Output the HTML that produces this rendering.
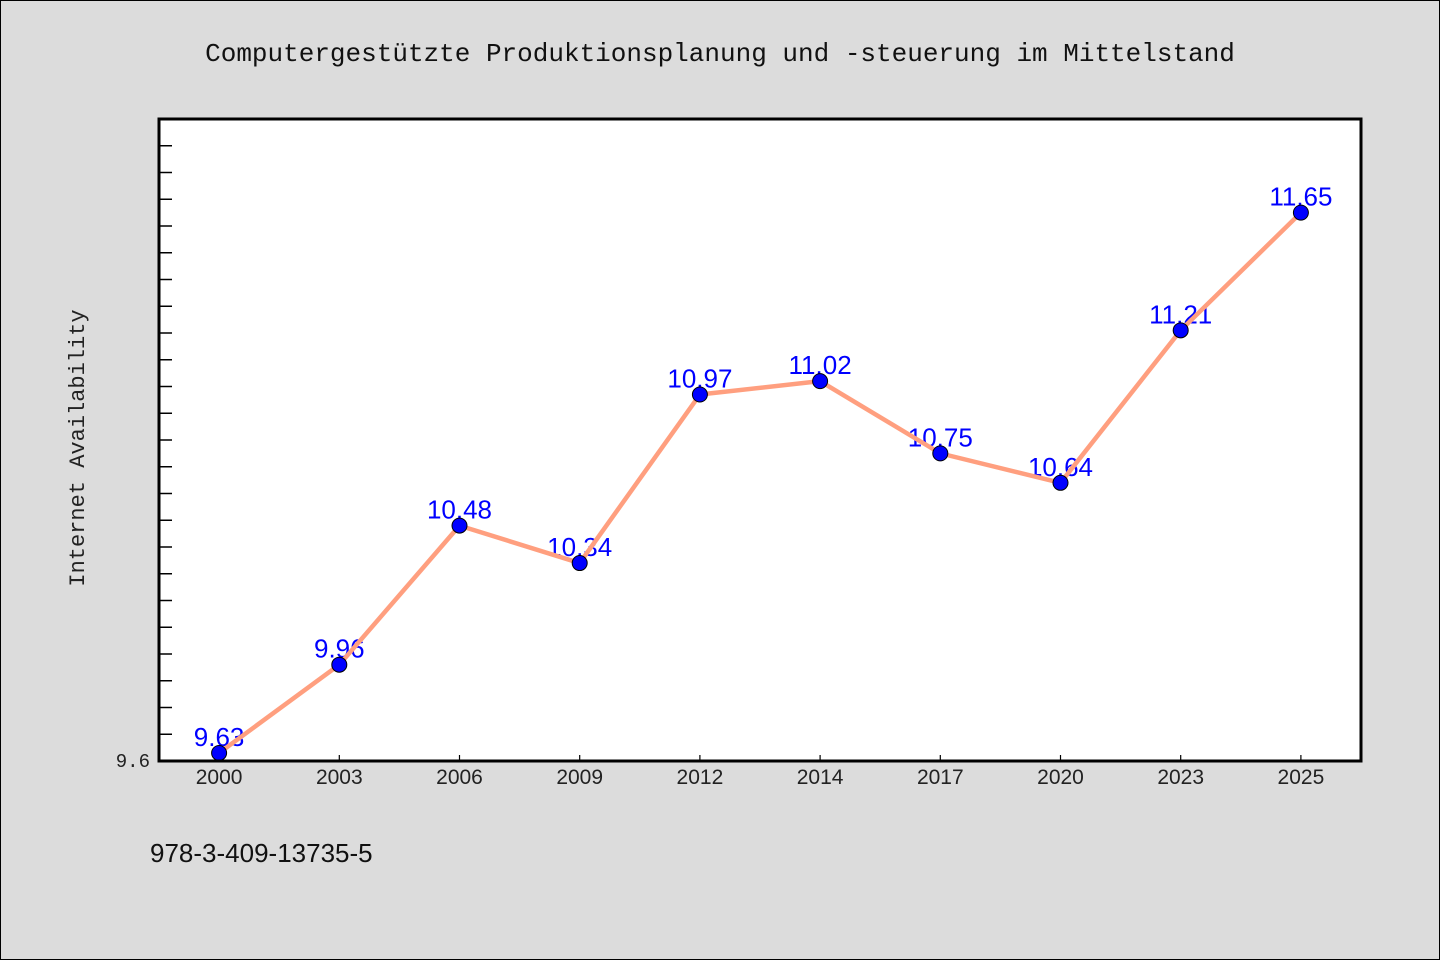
<!DOCTYPE html>
<html><head><meta charset="utf-8"><style>
html,body{margin:0;padding:0;background:#dcdcdc;}
svg{display:block;font-family:"Liberation Mono","Noto Sans CJK SC",monospace;}
</style></head><body>
<svg width="1440" height="960" viewBox="0 0 1440 960" id="c">
<rect x="0.5" y="0.5" width="1439" height="959" fill="#dcdcdc" stroke="#000"/>
<text x="720" y="61" text-anchor="middle" font-size="26" fill="#111">Computergestützte Produktionsplanung und -steuerung im Mittelstand</text>
<rect x="159" y="119" width="1202" height="642" fill="#fff"/>
<text transform="translate(84,448) rotate(-90)" text-anchor="middle" font-size="22" fill="#222">Internet Availability</text>
<text x="150" y="767" text-anchor="end" font-size="19" fill="#222">9.6</text>
<text x="150" y="862" font-family="Liberation Sans, sans-serif" font-size="26" fill="#111">978-3-409-13735-5</text>
<g id="ticks"></g><g id="xlabels"></g><g id="line"></g><g id="vlabels"></g><g id="dots"></g>
<rect x="159" y="119" width="1202" height="642" fill="none" stroke="#000" stroke-width="3"/>
</svg>
<script>
const categories=["2000","2003","2006","2009","2012","2014","2017","2020","2023","2025"];
const values=[9.63,9.96,10.48,10.34,10.97,11.02,10.75,10.64,11.21,11.65];
const yMin=9.6,yMax=12.0;
const L=159,R=1361,T=119,B=761;
const NS="http://www.w3.org/2000/svg";
const bw=(R-L)/categories.length;
function x(i){return L+(i+0.5)*bw;}
function y(v){return B-(v-yMin)/(yMax-yMin)*(B-T);}
function mk(t,a,parent){const e=document.createElementNS(NS,t);for(const k in a)e.setAttribute(k,a[k]);document.getElementById(parent).appendChild(e);return e;}
for(let k=1;k<24;k++){const v=yMin+k*0.1;
 const t=mk("line",{x1:L,x2:L+13,y1:y(v),y2:y(v),stroke:"#000","stroke-width":1.5},"ticks");
 
 }
categories.forEach((c,i)=>{
 const t=mk("line",{x1:x(i),x2:x(i),y1:B,y2:B-6,stroke:"#000","stroke-width":1.2},"ticks");
 
 
 const l=mk("text",{x:x(i),y:B+23,"text-anchor":"middle","font-size":21,fill:"#222","font-family":"Liberation Sans, sans-serif"},"xlabels");
 l.textContent=c;
 
 
 const vl=mk("text",{x:x(i),y:y(values[i])-7,"text-anchor":"middle","font-size":26,fill:"#0000ff","font-family":"Liberation Sans, sans-serif"},"vlabels");
 vl.textContent=values[i].toFixed(2);
 
 
 const d=mk("circle",{cx:x(i),cy:y(values[i]),r:7.5,fill:"#0000ff",stroke:"#000","stroke-width":1},"dots");
 
 
});
const p=mk("polyline",{points:values.map((v,i)=>x(i)+","+y(v)).join(" "),fill:"none",stroke:"#ff9f7f","stroke-width":4.5,"stroke-linejoin":"round"},"line");


// line drawn over value labels as in reference
document.getElementById("c").insertBefore(document.getElementById("line"),document.getElementById("dots"));
</script>
</body></html>
